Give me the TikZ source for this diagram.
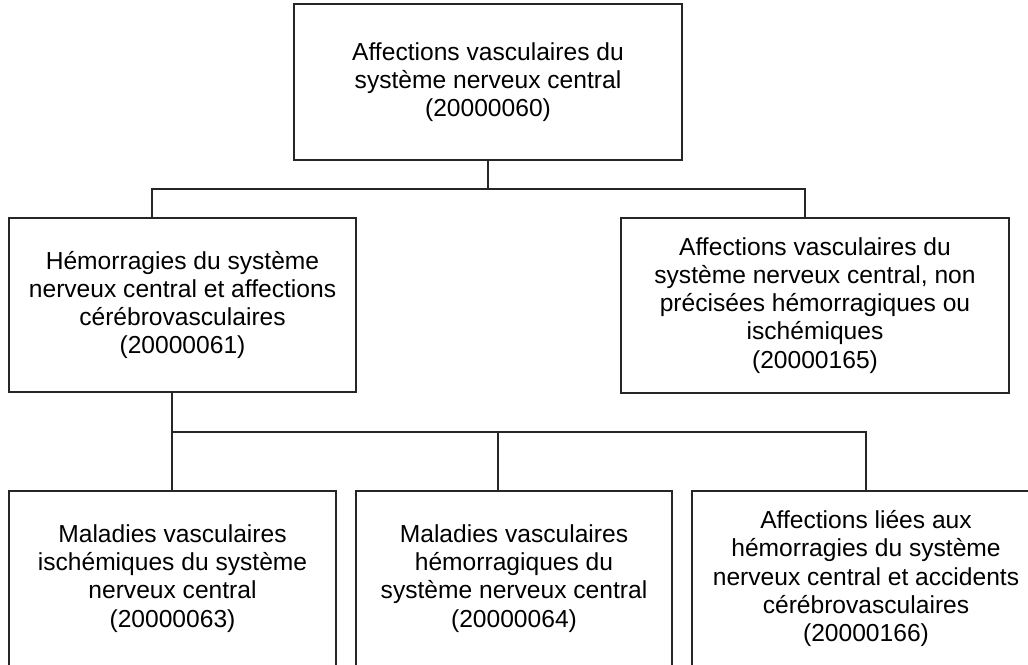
\documentclass[tikz,border=0pt]{standalone}
\usepackage{fontspec}
\setmainfont{Liberation Sans}

\begin{document}
\begin{tikzpicture}[x=0.02cm,y=-0.02cm,
  boite/.style={draw=black!85,line width=0.7pt,inner sep=0pt,align=center,
    font=\fontsize{14}{16}\selectfont},
  lien/.style={draw=black!85,line width=0.7pt}]
          \clip (0,0) rectangle (1028,664);
          \node [boite,minimum width=7.76cm,minimum height=3.12cm] (top) at (488,82)
                {Affections vasculaires du\\syst\`eme nerveux central\\(20000060)};
          \node [boite,minimum width=6.94cm,minimum height=3.48cm] (hem) at (182.5,305)
                {H\'emorragies du syst\`eme\\nerveux central et affections\\c\'er\'ebrovasculaires\\(20000061)};
          \node [boite,minimum width=7.76cm,minimum height=3.5cm] (nonp) at (815,305.5)
                {Affections vasculaires du\\syst\`eme nerveux central, non\\pr\'ecis\'ees h\'emorragiques ou\\isch\'emiques\\(20000165)};
          \node [boite,minimum width=6.54cm,minimum height=3.5cm] (isch) at (172.5,578.5)
                {Maladies vasculaires\\isch\'emiques du syst\`eme\\nerveux central\\(20000063)};
          \node [boite,minimum width=6.32cm,minimum height=3.5cm] (hemo) at (514,578.5)
                {Maladies vasculaires\\h\'emorragiques du\\syst\`eme nerveux central\\(20000064)};
          \node [boite,minimum width=6.96cm,minimum height=3.5cm] (acc) at (866,578.5)
                {Affections li\'ees aux\\h\'emorragies du syst\`eme\\nerveux central et accidents\\c\'er\'ebrovasculaires\\(20000166)};
          \coordinate (b1) at (152,189);
          \coordinate (b2) at (805,189);
          \coordinate (c1) at (172,432);
          \coordinate (c2) at (866,432);
          \coordinate (c3) at (498,432);
          \draw [lien] (top.south) -- (top.south |- b1);
          \draw [lien] (hem.north -| b1) |- (b2) -- (b2 |- nonp.north);
          \draw [lien] (hem.south -| c1) -- (c1) -- (c2) -- (c2 |- acc.north);
          \draw [lien] (c1) -- (c1 |- isch.north);
          \draw [lien] (c3) -- (c3 |- hemo.north);
\end{tikzpicture}
\end{document}
